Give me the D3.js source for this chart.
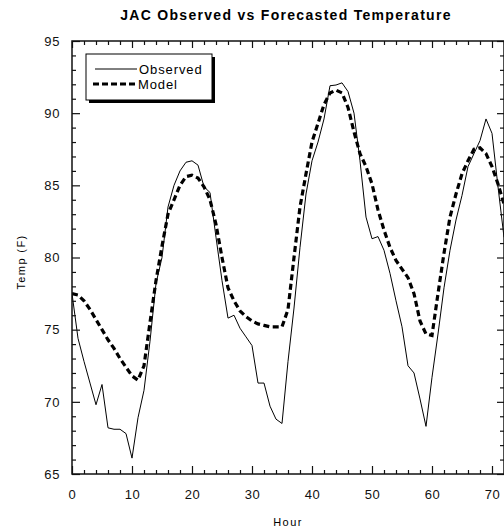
<!DOCTYPE html>
<html>
<head>
<meta charset="utf-8">
<script src="https://cdn.jsdelivr.net/npm/d3@7"></script>
<style>
  body { margin: 0; background: #fff; }
  svg { display: block; font-family: "Liberation Sans", Arial, sans-serif; }
</style>
</head>
<body>
<svg id="chart" width="504" height="531"></svg>
<script>
// hourly temperatures, hour = index (0..72)
const observed = [
  77.5, 74.4, 72.8, 71.3, 69.8, 71.2, 68.2, 68.1, 68.1, 67.8,
  66.1, 68.9, 70.8, 74.2, 78.2, 80.0, 83.5, 85.0, 86.0, 86.6,
  86.7, 86.4, 84.9, 84.5, 81.4, 78.4, 75.8, 76.0, 75.1, 74.5,
  73.9, 71.3, 71.3, 69.7, 68.8, 68.5, 72.8, 76.5, 80.7, 84.4,
  86.7, 88.0, 89.6, 91.9, 91.95, 92.1, 91.5, 90.0, 86.7, 82.8,
  81.3, 81.45, 80.5, 78.9, 77.0, 75.2, 72.5, 72.0, 70.2, 68.3,
  71.7, 74.7, 77.9, 80.5, 82.6, 84.3, 86.3, 87.2, 88.1, 89.6,
  88.6, 84.9, 81.4
];
const model = [
  77.5, 77.4, 77.0, 76.4, 75.7, 75.0, 74.3, 73.7, 73.0, 72.4,
  71.8, 71.5, 72.5, 75.5, 78.4, 80.8, 83.0, 84.0, 85.0, 85.6,
  85.7, 85.5, 84.9, 84.0, 82.3, 80.0, 77.9, 77.0, 76.3, 75.9,
  75.6, 75.4, 75.3, 75.2, 75.2, 75.2, 76.4, 80.0, 83.5, 85.8,
  88.0, 89.3, 90.6, 91.4, 91.6, 91.4, 90.4, 88.7, 87.2, 86.3,
  85.1, 83.3, 81.9, 80.7, 79.8, 79.2, 78.6, 77.5, 75.6, 74.7,
  74.6, 77.5, 80.3, 82.8, 84.4, 85.8, 86.7, 87.5, 87.6, 87.2,
  86.3, 85.1, 83.7
];
const xTicks = [0, 10, 20, 30, 40, 50, 60, 70];
const yTicks = [65, 70, 75, 80, 85, 90, 95];
const seriesNames = ["Observed", "Model"];

const svg = d3.select("#chart");
const pLeft = 72, pRight = 504, pTop = 41, pBottom = 474;
const font = "Liberation Sans, Arial, sans-serif";

const x = d3.scaleLinear().domain([0, 72]).range([pLeft, pRight]);
const y = d3.scaleLinear().domain([65, 95]).range([pBottom, pTop]);

svg.append("text")
  .attr("x", 286).attr("y", 20)
  .attr("text-anchor", "middle")
  .attr("font-size", 14).attr("font-weight", "bold")
  .attr("letter-spacing", 1.3)
  .attr("fill", "#000")
  .text("JAC Observed vs Forecasted Temperature");

svg.append("defs").append("clipPath").attr("id", "plot")
  .append("rect").attr("x", pLeft).attr("y", pTop)
  .attr("width", pRight - pLeft).attr("height", pBottom - pTop);

const line = d3.line()
  .x((d, i) => x(i))
  .y(d => y(d));

const g = svg.append("g").attr("clip-path", "url(#plot)");
g.append("path").datum(observed)
  .attr("d", line)
  .attr("fill", "none").attr("stroke", "#000").attr("stroke-width", 1);
g.append("path").datum(model)
  .attr("d", line)
  .attr("fill", "none").attr("stroke", "#000").attr("stroke-width", 3.2)
  .attr("stroke-dasharray", "6,3.5");

// axes, ticks point inward
const minorX = d3.range(0, 73, 2).filter(v => v % 10 != 0);
const minorY = d3.range(65, 96, 1).filter(v => v % 5 != 0);

function axisStyle(sel) {
  sel.select(".domain").remove();
  sel.selectAll("line").attr("stroke", "#111").attr("stroke-width", 1.2);
}

svg.append("g").attr("transform", `translate(0,${pBottom})`)
  .call(d3.axisBottom(x).tickValues(xTicks).tickSize(-8).tickFormat(d3.format("d")))
  .call(axisStyle)
  .call(s => s.selectAll("text").attr("y", 16).attr("font-size", 13)
    .attr("letter-spacing", 0.6)
    .attr("fill", "#111").attr("font-family", font));
svg.append("g").attr("transform", `translate(0,${pBottom})`)
  .call(d3.axisBottom(x).tickValues(minorX).tickSize(-4).tickFormat(""))
  .call(axisStyle);

svg.append("g").attr("transform", `translate(0,${pTop})`)
  .call(d3.axisTop(x).tickValues(xTicks).tickSize(-7).tickFormat(""))
  .call(axisStyle);
svg.append("g").attr("transform", `translate(0,${pTop})`)
  .call(d3.axisTop(x).tickValues(minorX).tickSize(-4).tickFormat(""))
  .call(axisStyle);

svg.append("g").attr("transform", `translate(${pLeft},0)`)
  .call(d3.axisLeft(y).tickValues(yTicks).tickSize(-8).tickFormat(d3.format("d")))
  .call(axisStyle)
  .call(s => s.selectAll("text").attr("x", -12).attr("font-size", 13)
    .attr("letter-spacing", 0.6)
    .attr("fill", "#111").attr("font-family", font));
svg.append("g").attr("transform", `translate(${pLeft},0)`)
  .call(d3.axisLeft(y).tickValues(minorY).tickSize(-4).tickFormat(""))
  .call(axisStyle);

svg.append("g").attr("transform", `translate(${pRight},0)`)
  .call(d3.axisRight(y).tickValues(yTicks).tickSize(-7).tickFormat(""))
  .call(axisStyle);
svg.append("g").attr("transform", `translate(${pRight},0)`)
  .call(d3.axisRight(y).tickValues(minorY).tickSize(-4).tickFormat(""))
  .call(axisStyle);

svg.append("rect")
  .attr("x", pLeft).attr("y", pTop)
  .attr("width", pRight - pLeft).attr("height", pBottom - pTop)
  .attr("fill", "none").attr("stroke", "#111").attr("stroke-width", 1.5);

svg.append("text")
  .attr("x", 288).attr("y", 526)
  .attr("text-anchor", "middle").attr("font-size", 11)
  .attr("letter-spacing", 1.4).attr("fill", "#000")
  .text("Hour");
svg.append("text")
  .attr("transform", "translate(25,262) rotate(-90)")
  .attr("text-anchor", "middle").attr("font-size", 11)
  .attr("letter-spacing", 1.4).attr("fill", "#000")
  .text("Temp (F)");

// legend with drop shadow
const lg = svg.append("g").attr("transform", "translate(86,54)");
lg.append("rect").attr("x", 3).attr("y", 3).attr("width", 126).attr("height", 46)
  .attr("fill", "#000");
lg.append("rect").attr("x", 0).attr("y", 0).attr("width", 126).attr("height", 46)
  .attr("fill", "#fff").attr("stroke", "#000").attr("stroke-width", 1);
const ls = lg.selectAll("g.item").data(seriesNames).enter().append("g")
  .attr("class", "item")
  .attr("transform", (d, i) => `translate(0,${15 + i * 15})`);
ls.append("line")
  .attr("x1", (d, i) => i ? 7 : 9).attr("x2", 51)
  .attr("stroke", "#000")
  .attr("stroke-width", (d, i) => i ? 3.2 : 1)
  .attr("stroke-dasharray", (d, i) => i ? "6,3" : null);
ls.append("text")
  .attr("x", (d, i) => i ? 52 : 53).attr("y", 4.5)
  .attr("font-size", 13).attr("letter-spacing", 0.9)
  .attr("fill", "#000")
  .text(d => d);
</script>
</body>
</html>
